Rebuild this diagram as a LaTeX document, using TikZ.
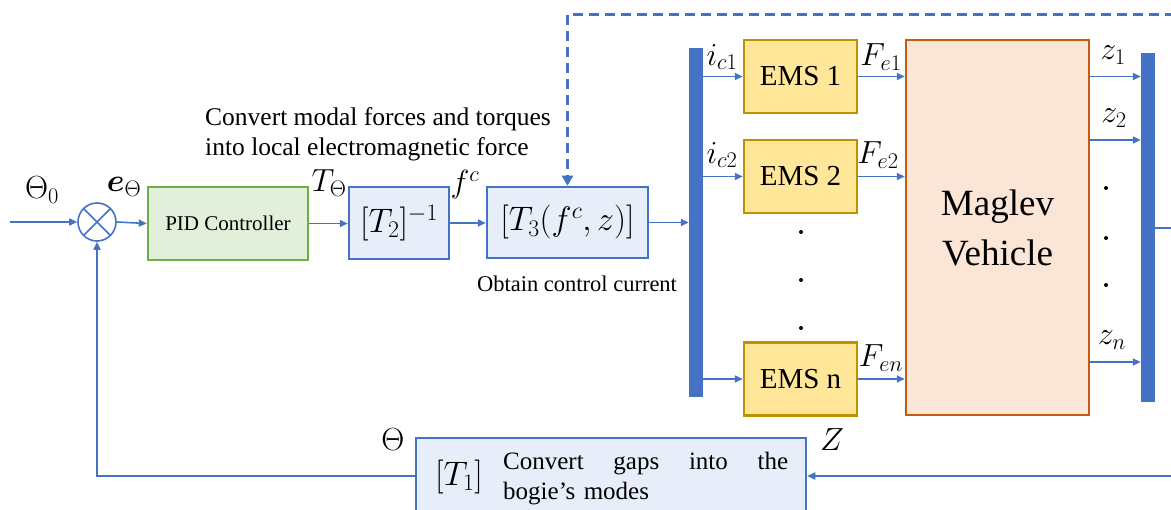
\RequirePackage{fix-cm}
\documentclass[tikz,border=0pt]{standalone}
\usepackage{fontspec}
\setmainfont{Liberation Serif}
\usepackage{amsmath,amssymb}
\usetikzlibrary{arrows.meta,calc}
\definecolor{lineblue}{HTML}{4472C4}
\definecolor{lblue}{HTML}{E8EEF9}
\definecolor{gfill}{HTML}{E2EFDA}
\definecolor{gdraw}{HTML}{70AD47}
\definecolor{yfill}{HTML}{FFE699}
\definecolor{ydraw}{HTML}{BF9000}
\definecolor{ofill}{HTML}{FBE5D6}
\definecolor{odraw}{HTML}{C55A11}
\newcommand{\msz}{\fontsize{32}{36}\selectfont}
\newcommand{\bsz}{\fontsize{34}{38}\selectfont}
\begin{document}
\begin{tikzpicture}[x=1pt,y=-1pt,
  conn/.style={draw=lineblue, line width=1.6pt, -{Triangle[length=8pt,width=7pt]}},
  plainline/.style={draw=lineblue, line width=1.6pt},
  dashline/.style={draw=lineblue, line width=3pt, dash pattern=on 10pt off 6pt, -{Triangle[length=10pt,width=11pt]}},
  bluebox/.style={draw=lineblue, fill=lblue, line width=2.5pt, inner sep=0pt},
  emsbox/.style={draw=ydraw, fill=yfill, line width=2.5pt, inner sep=0pt, minimum width=113pt, minimum height=73pt, font=\fontsize{29}{33}\selectfont},
  bar/.style={fill=lineblue, draw=none, inner sep=0pt, minimum width=14pt, minimum height=349pt},
  lbl/.style={inner sep=0pt, font=\msz},
  dotmark/.style={fill=black, draw=none, circle, inner sep=0pt, minimum size=4pt}
]
\useasboundingbox (0,0) rectangle (1171,510);
\clip (0,0) rectangle (1171,510);

% blocks
\node[circle, draw=lineblue, line width=1.6pt, minimum size=38pt, inner sep=0pt,
  path picture={\draw[lineblue, line width=1.6pt] (path picture bounding box.north west) -- (path picture bounding box.south east) (path picture bounding box.north east) -- (path picture bounding box.south west);}] (sum) at (97,222) {};
\node[draw=gdraw, fill=gfill, line width=2.5pt, inner sep=0pt, minimum width=160pt, minimum height=73pt, font=\fontsize{21}{25}\selectfont] (pid) at (228,223.5) {PID Controller};
\node[bluebox, minimum width=100pt, minimum height=72pt, font=\bsz] (t2) at (399,223) {$[T_2]^{-1}$};
\node[bluebox, minimum width=161pt, minimum height=71pt, font=\bsz] (t3) at (567.5,222.5) {$[T_3(f^c,z)]$};
\node[bar] (lbar) at (696,222.5) {};
\node[emsbox] (ems1) at (800.5,76.5) {EMS 1};
\node[emsbox] (ems2) at (800.5,176.5) {EMS 2};
\node[emsbox] (emsn) at (800.5,379) {EMS n};
\node[draw=odraw, fill=ofill, line width=2.5pt, inner sep=0pt, minimum width=183pt, minimum height=375pt, align=center, font=\fontsize{37}{50}\selectfont] (mag) at (997.5,227.5) {Maglev\\Vehicle};
\node[bar] (rbar) at (1148,227.5) {};
\node[bluebox, minimum width=390pt, minimum height=76pt] (t1) at (611,476) {};
\node[inner sep=0pt, font=\bsz] (t1lab) at (459,477) {$[T_1]$};
\node[inner sep=0pt, anchor=west, text width=285pt, align=left, font=\fontsize{25}{30}\selectfont] (t1txt) at (503,479) {\hbox to 285pt{Convert\hfill gaps\hfill into\hfill the}\\bogie's modes};

% texts
\node[inner sep=0pt, anchor=west, align=left, font=\fontsize{25.5}{30}\selectfont] (conv) at (205,134) {Convert modal forces and torques\\into local electromagnetic force};
\node[inner sep=0pt, font=\fontsize{22.5}{26}\selectfont] (obt) at (577,284) {Obtain control current};

% labels
\node[lbl] (l0) at (42,190) {$\Theta_0$};
\node[lbl] (le) at (124,187) {$\boldsymbol{e}_\Theta$};
\node[lbl] (lT) at (329,183) {$T_\Theta$};
\node[lbl] (lf) at (465,185) {$f^c$};
\node[lbl] (li1) at (722,57) {$i_{c1}$};
\node[lbl] (li2) at (722,155) {$i_{c2}$};
\node[lbl] (lF1) at (881,57) {$F_{e1}$};
\node[lbl] (lF2) at (878,155) {$F_{e2}$};
\node[lbl] (lFn) at (881,358) {$F_{en}$};
\node[lbl] (lz1) at (1113,55) {$z_1$};
\node[lbl] (lz2) at (1114,118) {$z_2$};
\node[lbl] (lzn) at (1112,340) {$z_n$};
\node[lbl] (lth) at (393,440) {$\Theta$};
\node[lbl] (lZ) at (832,440) {$Z$};

% dots
\foreach \y in {232,280,328} \node[dotmark] at (801,\y) {};
\foreach \y in {188,238,285} \node[dotmark] at (1106,\y) {};

% connectors
\coordinate (in) at (10,222);
\coordinate (dR) at (1175,15);
\coordinate (outR) at (1175,228);
\coordinate (fbR) at (1175,476);
\draw[conn] (in) -- (sum.west);
\draw[conn] (sum.east) -- (pid.west);
\draw[conn] (pid.east) -- (pid.east -| t2.west);
\draw[conn] (t2.east) -- (t2.east -| t3.west);
\draw[conn] (t3.east) -- (t3.east -| lbar.west);
\draw[conn] (lbar.east |- ems1.west) -- (ems1.west);
\draw[conn] (lbar.east |- ems2.west) -- (ems2.west);
\draw[conn] (lbar.east |- emsn.west) -- (emsn.west);
\draw[conn] (ems1.east) -- (ems1.east -| mag.west);
\draw[conn] (ems2.east) -- (ems2.east -| mag.west);
\draw[conn] (emsn.east) -- (emsn.east -| mag.west);
\draw[conn] (mag.east |- ems1.east) -- (rbar.west |- ems1.east);
\draw[conn] (mag.east |- 0,140) -- (rbar.west |- 0,140);
\draw[conn] (mag.east |- 0,362) -- (rbar.west |- 0,362);
\draw[plainline] (rbar.east |- outR) -- (outR);
\draw[conn] (fbR) -- (t1.east);
\draw[conn] (t1.west) -| (sum.south);
\draw[dashline] (dR) -| (t3.north);
\end{tikzpicture}
\end{document}
